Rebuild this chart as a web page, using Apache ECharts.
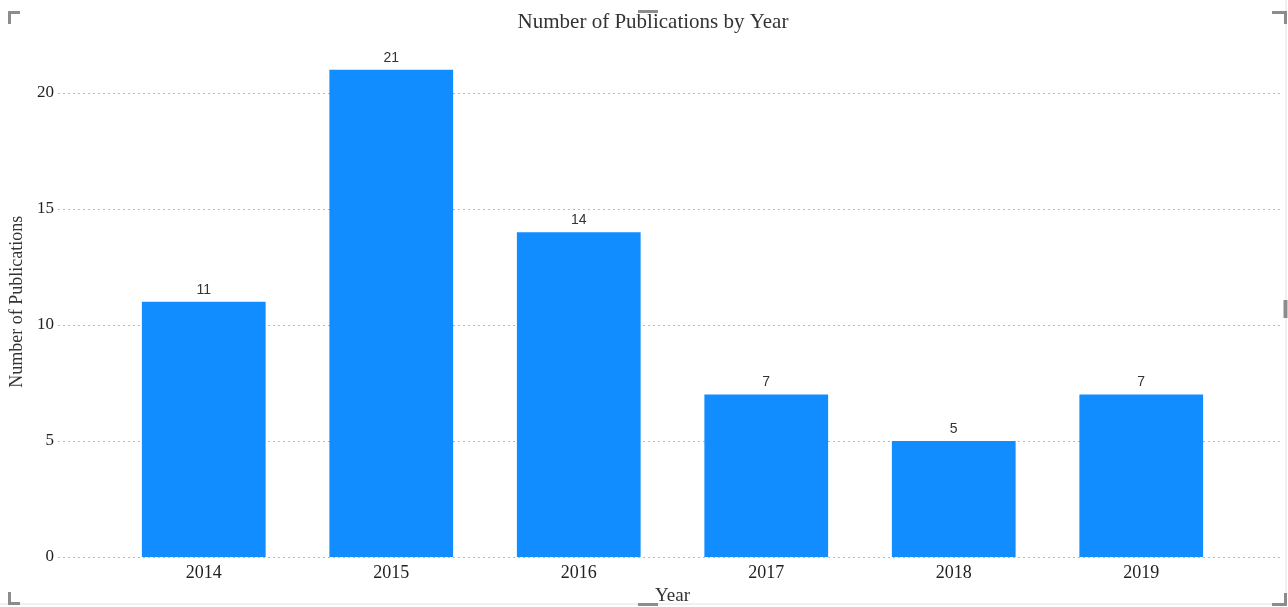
<!DOCTYPE html>
<html>
<head>
<meta charset="utf-8">
<script src="https://cdn.jsdelivr.net/npm/echarts@6/dist/echarts.min.js"></script>
<style>html,body{margin:0;padding:0;background:#fff}#c{width:1288px;height:607px}</style>
</head>
<body>
<div id="c"></div>
<script>
var years = ['2014', '2015', '2016', '2017', '2018', '2019'];
var publications = [11, 21, 14, 7, 5, 7];
var yTicks = [0, 5, 10, 15, 20];

var serif = '"Liberation Serif", "DejaVu Serif", serif';
var sans = '"Liberation Sans", "Noto Sans", sans-serif';
var gridTop = 46.6, gridBottom = 607 - 557;
var yMax = 22;

var chart = echarts.init(document.getElementById('c'));
var mark = '#8c8c8c';
function seg(points, w, c) {
  return { type: 'polyline', shape: { points: points }, style: { stroke: c || mark, lineWidth: w || 3, fill: null }, silent: true };
}
chart.setOption({
  animation: false,
  backgroundColor: '#fff',
  title: {
    text: 'Number of Publications by Year',
    left: 648, top: 7, textAlign: 'center',
    textStyle: { fontFamily: serif, fontSize: 21, fontWeight: 'normal', color: '#333' }
  },
  grid: [
    { left: 110, width: 1125, top: gridTop, bottom: gridBottom, outerBoundsMode: 'none', containLabel: false },
    { left: 58, right: 5, top: gridTop, bottom: gridBottom, outerBoundsMode: 'none', containLabel: false }
  ],
  xAxis: [
    {
      gridIndex: 0, type: 'category', data: years,
      axisLine: { show: false }, axisTick: { show: false },
      axisLabel: { fontFamily: serif, fontSize: 18, color: '#222', margin: 7 },
      name: 'Year', nameLocation: 'middle', nameGap: 28,
      nameTextStyle: { fontFamily: serif, fontSize: 19, color: '#333' }
    },
    { gridIndex: 1, type: 'value', min: 0, max: 1, show: false }
  ],
  yAxis: [
    { gridIndex: 0, type: 'value', min: 0, max: yMax, show: false },
    {
      gridIndex: 1, type: 'value', min: 0, max: yMax, interval: 5,
      axisLine: { show: false }, axisTick: { show: false },
      axisLabel: {
        fontFamily: serif, fontSize: 17, color: '#222', margin: 4, showMaxLabel: false,
        formatter: function (v) { return yTicks.indexOf(v) >= 0 ? String(v) : ''; }
      },
      splitLine: { lineStyle: { type: [2, 3], width: 1, color: ['#b8b8b8', '#b8b8b8', '#b8b8b8', '#b8b8b8', '#b8b8b8', 'rgba(0,0,0,0)'] } },
      name: 'Number of Publications', nameLocation: 'middle', nameGap: 27,
      nameTextStyle: { fontFamily: serif, fontSize: 18, color: '#333' }
    }
  ],
  series: [{
    type: 'bar', xAxisIndex: 0, yAxisIndex: 0,
    data: publications, barCategoryGap: '34%',
    itemStyle: { color: '#118DFF' },
    label: { show: true, position: 'top', distance: 5, fontFamily: sans, fontSize: 14, color: '#333' }
  }],
  graphic: [
    seg([[1286, 0], [1286, 604], [0, 604]], 1, '#e2e2e2'),
    seg([[9.5, 24], [9.5, 12.5], [20, 12.5]]),
    seg([[1272, 12.5], [1285.5, 12.5], [1285.5, 24]]),
    seg([[9.5, 592], [9.5, 603.5], [20, 603.5]]),
    seg([[1272, 604.5], [1285.5, 604.5], [1285.5, 593]]),
    seg([[638, 11.5], [658, 11.5]]),
    seg([[638, 604.5], [658, 604.5]]),
    seg([[1285.5, 300], [1285.5, 318]], 4)
  ]
});
</script>
</body>
</html>
